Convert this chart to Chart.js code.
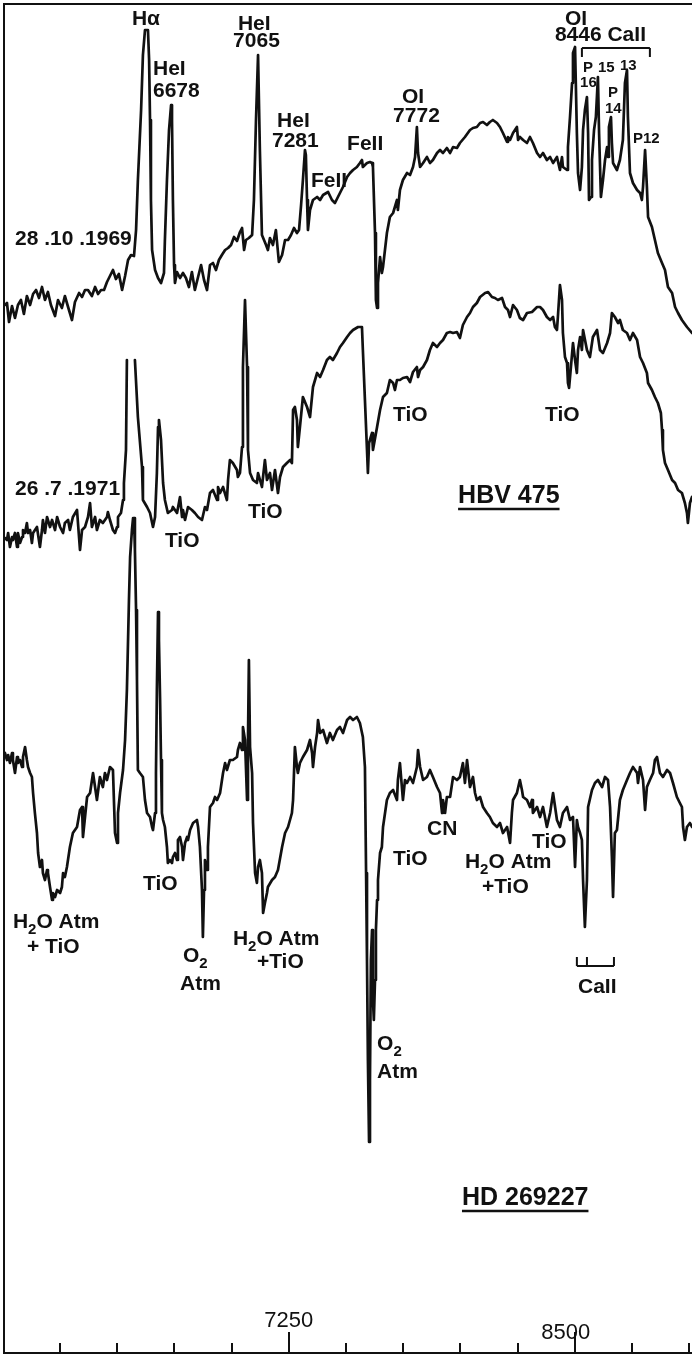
<!DOCTYPE html>
<html>
<head>
<meta charset="utf-8">
<script src="https://cdn.jsdelivr.net/npm/chart.js@4.4.0/dist/chart.umd.min.js"></script>
<style>
  html, body { margin: 0; padding: 0; background: #fff; }
  canvas { display: block; }
</style>
</head>
<body>
<canvas id="spec" width="692" height="1355"></canvas>
<script>
// wavelength (A) and relative intensity (offset per spectrum)
const wl1969 = [6010,6019,6028,6041,6054,6067,6080,6093,6106,6120,6133,6146,6159,6172,6185,6198,6211,6229,6242,6259,
  6272,6286,6303,6316,6334,6347,6360,6373,6390,6404,6417,6430,6443,6456,6469,6482,6495,6508,6522,6535,
  6548,6561,6574,6583,6591,6605,6613,6622,6635,6640,6644,6648,6653,6666,6679,6692,6705,6709,6718,6727,
  6736,6740,6744,6749,6753,6762,6775,6788,6801,6814,6827,6840,6854,6867,6880,6893,6906,6919,6932,6945,
  6958,6972,6985,6998,7011,7024,7037,7046,7055,7063,7076,7090,7098,7107,7116,7124,7133,7142,7151,7159,
  7168,7181,7194,7207,7221,7234,7247,7260,7273,7286,7295,7304,7312,7321,7325,7330,7334,7343,7356,7374,
  7387,7400,7422,7439,7452,7465,7487,7505,7518,7531,7548,7561,7570,7574,7592,7605,7614,7618,7627,7631,
  7636,7640,7649,7657,7662,7679,7692,7706,7723,7727,7736,7749,7767,7780,7793,7802,7810,7815,7824,7837,
  7854,7867,7880,7898,7911,7924,7941,7955,7968,7985,7998,8020,8042,8055,8072,8086,8099,8116,8129,8142,
  8160,8173,8186,8204,8208,8217,8230,8247,8252,8260,8274,8291,8304,8317,8335,8348,8361,8378,8392,8405,
  8422,8435,8444,8448,8466,8470,8479,8488,8492,8501,8509,8514,8523,8531,8536,8544,8553,8558,8562,8571,
  8575,8584,8592,8601,8606,8614,8623,8632,8641,8645,8649,8658,8662,8667,8684,8697,8710,8719,8728,8732,
  8741,8754,8772,8785,8793,8798,8807,8815,8820,8837,8850,8863,8881,8894,8907,8925,8938,8951,8968,8990,
  9012];
const flux1969 = [104.8,105.0,103.1,104.7,103.5,104.8,105.3,103.9,105.7,104.8,105.9,106.3,105.5,106.6,105.3,106.1,104.8,103.7,105.3,104.5,
  105.7,104.6,103.3,105.1,106.0,105.6,106.3,106.3,105.7,106.6,105.9,106.3,106.3,107.1,107.7,108.3,107.4,107.9,106.3,107.7,
  109.3,109.8,109.7,112.3,117.3,124.3,129.8,132.3,132.3,129.3,123.3,115.3,110.3,108.3,107.5,107.0,108.0,111.3,117.3,122.3,
  124.8,123.3,115.3,108.8,107.0,108.1,107.5,108.0,107.5,106.6,108.1,106.3,107.6,108.8,107.3,106.3,108.8,109.0,108.3,109.3,
  109.8,110.3,110.5,110.8,111.6,111.2,112.1,112.5,110.3,111.3,111.5,111.8,115.3,123.3,129.8,120.3,111.8,111.3,110.8,110.3,
  111.5,110.8,112.3,109.1,109.8,111.3,111.3,111.8,112.5,112.0,112.3,114.8,117.3,120.3,119.8,115.3,112.3,114.3,115.3,115.6,
  115.3,115.8,116.1,115.3,115.0,115.6,116.6,117.6,118.0,118.3,118.6,119.0,119.3,118.6,119.0,119.1,119.0,118.6,112.0,105.3,
  104.5,107.0,109.6,108.0,108.6,112.0,113.6,114.0,115.3,114.3,116.3,117.3,118.0,117.8,118.6,119.6,122.6,120.0,118.6,119.0,
  119.6,119.0,119.3,120.0,120.3,120.0,120.5,120.0,120.6,120.5,121.0,121.6,122.3,122.5,122.6,123.0,123.1,122.8,123.1,123.3,
  123.0,122.6,122.0,121.1,121.6,121.3,122.0,122.6,121.3,121.6,121.3,121.0,121.6,121.0,120.0,119.6,120.0,119.3,119.6,119.0,
  119.6,118.3,119.6,118.6,118.3,120.6,123.6,127.0,130.0,130.6,122.0,118.0,116.3,118.6,122.3,124.3,125.6,122.0,115.3,115.6,
  119.3,122.3,123.6,127.6,122.0,115.6,117.3,119.3,120.6,119.6,122.6,123.6,121.0,119.0,118.3,119.3,121.3,127.0,128.3,123.6,
  118.0,117.0,116.3,116.0,115.3,116.6,120.3,116.6,113.6,112.6,111.3,110.0,109.0,108.3,106.6,106.0,104.6,104.0,103.3,102.6,
  102.0];

const wl1971 = [6010,6019,6024,6032,6041,6045,6054,6063,6067,6076,6085,6089,6098,6106,6111,6120,6128,6133,6150,6163,
  6172,6176,6185,6194,6207,6216,6229,6238,6251,6264,6272,6286,6294,6307,6325,6338,6347,6360,6373,6382,
  6390,6404,6412,6425,6438,6456,6460,6469,6482,6491,6500,6504,6517,6526,6530,6539,6543,6560,6578,6591,
  6609,6613,6631,6644,6657,6666,6674,6679,6683,6692,6701,6709,6722,6740,6744,6762,6775,6784,6788,6797,
  6810,6827,6840,6854,6871,6884,6893,6906,6919,6937,6941,6950,6963,6980,6985,6993,7006,7024,7028,7037,
  7046,7050,7059,7068,7072,7081,7094,7111,7116,7133,7146,7155,7168,7177,7190,7203,7212,7225,7242,7256,
  7264,7269,7277,7286,7290,7299,7312,7330,7343,7356,7374,7387,7400,7417,7430,7443,7461,7474,7487,7505,
  7518,7531,7553,7570,7574,7583,7592,7596,7601,7614,7618,7636,7649,7662,7679,7692,7706,7714,7723,7736,
  7749,7767,7780,7793,7810,7815,7824,7837,7854,7867,7880,7898,7911,7924,7941,7955,7968,7985,7998,8011,
  8029,8042,8055,8072,8086,8108,8121,8138,8151,8164,8182,8195,8208,8217,8230,8247,8260,8274,8291,8313,
  8335,8348,8361,8378,8392,8405,8413,8422,8426,8435,8444,8448,8457,8466,8470,8475,8483,8492,8501,8509,
  8514,8523,8531,8536,8553,8566,8579,8597,8610,8623,8641,8654,8662,8675,8689,8697,8710,8728,8741,8754,
  8772,8785,8798,8815,8820,8837,8850,8863,8876,8881,8885,8894,8907,8925,8938,8951,8968,8981,8990,8994,
  9003,9012];
// null = the pen break across the top of H-alpha
const flux1971 = [81.5,81.3,82.0,80.6,81.6,81.3,82.0,80.6,82.0,81.0,81.6,82.3,82.0,83.0,82.0,82.3,81.0,82.0,82.6,80.6,
  82.3,83.3,82.0,83.6,82.6,83.3,82.3,83.6,82.6,82.0,83.0,83.3,82.3,83.6,84.3,80.3,82.3,82.6,83.6,85.0,
  82.6,83.6,82.3,83.3,83.0,83.6,84.1,83.3,82.3,82.0,82.6,83.6,84.0,85.3,87.0,90.3,99.3,null,99.3,93.6,
  88.6,85.3,84.6,84.0,82.6,83.6,88.0,92.6,93.3,91.3,87.0,85.3,84.0,84.3,84.6,84.0,85.6,83.6,84.3,83.3,
  84.6,84.3,84.0,83.6,83.3,84.6,84.3,86.0,86.3,85.3,86.6,86.0,86.6,85.3,87.3,89.3,89.0,88.3,87.6,88.0,
  90.6,98.6,105.3,98.6,90.3,88.0,87.3,87.0,88.0,86.6,89.3,87.3,88.0,86.3,88.3,86.0,87.6,88.6,89.0,89.3,
  89.0,94.3,94.6,93.3,90.6,92.6,95.6,94.6,93.6,96.6,98.0,97.6,98.3,99.3,99.6,99.3,100.0,100.6,101.0,101.6,
  102.0,102.3,102.6,102.6,100.3,95.3,90.3,88.0,91.0,92.0,90.3,92.6,94.3,95.6,96.0,97.3,97.0,96.3,97.3,97.3,
  97.5,97.6,97.1,98.1,98.6,97.6,98.3,98.6,99.3,100.3,101.0,100.6,101.0,101.3,102.0,102.1,102.0,102.1,101.5,102.8,
  103.6,104.0,104.6,105.0,105.6,106.0,106.1,105.6,105.5,105.3,105.5,104.6,104.3,103.6,104.8,104.3,103.5,103.3,104.0,104.1,
  104.6,104.6,104.3,103.6,103.3,103.6,102.6,102.3,103.6,106.8,105.3,102.0,99.6,99.0,97.0,96.5,98.6,101.0,99.3,98.0,
  100.3,101.6,100.3,102.3,100.3,99.6,101.6,102.3,100.3,100.0,101.0,102.0,104.0,103.6,103.0,103.3,102.3,102.0,101.3,102.0,
  101.3,99.6,99.0,98.0,97.0,96.3,95.6,95.0,94.0,92.3,90.3,89.0,88.3,87.3,87.0,86.3,86.0,85.0,84.0,83.0,
  85.0,85.6];

const wlHD = [6010,6019,6024,6032,6041,6045,6054,6063,6067,6076,6085,6089,6098,6106,6111,6120,6128,6133,6141,6150,
  6155,6163,6172,6176,6185,6194,6198,6207,6216,6220,6229,6238,6251,6259,6264,6272,6281,6294,6307,6325,
  6338,6347,6351,6360,6369,6382,6395,6412,6425,6438,6447,6456,6469,6482,6491,6500,6504,6513,6526,6535,
  6543,6552,6557,6565,6570,6574,6578,6583,6587,6591,6600,6613,6622,6631,6644,6653,6657,6666,6670,6674,
  6679,6683,6688,6692,6696,6701,6709,6718,6722,6731,6740,6744,6753,6762,6766,6775,6784,6788,6797,6806,
  6810,6819,6832,6849,6854,6862,6871,6875,6880,6884,6893,6897,6906,6919,6928,6937,6950,6963,6972,6980,
  6993,7006,7024,7028,7037,7046,7050,7059,7068,7072,7076,7081,7090,7094,7103,7111,7116,7124,7133,7138,
  7146,7155,7159,7177,7190,7203,7221,7234,7247,7264,7269,7277,7286,7290,7299,7312,7330,7343,7352,7356,
  7365,7374,7378,7387,7400,7417,7430,7443,7461,7474,7487,7505,7518,7531,7548,7561,7574,7583,7588,7592,
  7596,7601,7605,7609,7614,7618,7622,7627,7631,7636,7640,7649,7657,7662,7679,7692,7706,7723,7727,7736,
  7749,7758,7767,7780,7793,7810,7815,7824,7837,7854,7867,7880,7898,7911,7920,7924,7933,7941,7955,7968,
  7985,7998,8011,8020,8029,8042,8055,8064,8072,8086,8099,8116,8129,8142,8160,8173,8186,8204,8217,8225,
  8230,8247,8260,8269,8274,8291,8304,8313,8317,8335,8348,8361,8378,8392,8405,8422,8435,8448,8466,8479,
  8492,8501,8509,8514,8523,8531,8536,8544,8553,8558,8575,8588,8601,8619,8632,8645,8654,8662,8667,8675,
  8684,8697,8710,8728,8741,8754,8772,8776,8785,8798,8807,8815,8828,8842,8850,8859,8872,8885,8903,8916,
  8929,8946,8959,8968,8973,8981,8990,9003,9012];
const fluxHD = [60.0,59.3,59.8,59.0,60.0,59.3,58.0,59.6,59.0,59.3,58.6,59.6,60.6,59.3,58.6,58.0,57.6,56.0,54.0,52.0,
  50.0,48.6,49.3,48.0,47.3,48.3,48.0,46.6,45.3,46.0,45.6,46.3,46.0,46.6,48.0,47.6,48.6,50.6,52.0,52.6,
  54.3,54.6,51.6,53.6,55.6,56.0,58.0,55.3,57.6,56.6,58.0,57.3,58.6,58.3,52.0,51.0,54.0,56.0,58.3,61.3,
  66.3,75.3,79.6,82.3,83.5,83.5,80.3,74.3,67.3,58.3,58.0,57.6,55.3,54.0,53.6,52.6,52.3,54.0,58.0,66.3,
  74.1,71.3,65.3,59.3,54.0,53.3,52.6,50.6,49.0,49.3,49.0,49.6,50.0,49.3,51.3,51.6,50.6,49.3,51.0,51.6,
  51.3,52.3,53.0,53.3,52.6,50.6,46.3,41.6,46.3,49.3,48.3,50.6,54.6,55.0,55.6,55.3,56.0,58.0,59.0,58.3,
  59.3,59.3,59.6,60.3,61.0,60.3,62.6,61.3,55.3,61.3,69.3,60.6,58.0,53.0,48.0,47.0,48.6,49.3,48.0,44.0,
  45.0,46.0,46.6,47.3,47.6,48.3,50.6,52.0,52.6,54.0,55.3,60.6,58.6,58.0,59.0,59.6,60.3,61.3,60.0,58.6,
  60.6,62.0,63.3,62.0,62.3,61.0,62.0,61.3,62.3,62.6,62.0,63.3,63.6,63.3,63.6,63.0,61.6,58.6,48.0,39.3,
  29.3,21.1,27.3,39.3,42.3,35.3,33.3,37.3,42.3,45.3,47.3,50.0,50.6,52.6,55.3,56.0,56.3,55.3,57.3,59.0,
  55.3,57.3,57.0,57.6,57.0,58.6,60.3,58.6,57.3,57.6,58.3,57.6,56.6,56.0,54.0,55.3,54.0,55.6,55.6,57.6,
  57.3,57.6,59.0,57.0,59.3,56.6,57.6,56.0,55.3,55.6,54.6,54.0,53.6,53.0,52.6,53.0,52.0,52.6,51.0,54.0,
  55.3,56.0,57.3,56.3,55.6,55.3,54.6,55.3,54.0,54.6,53.6,54.6,52.6,54.0,56.0,53.3,52.6,54.0,54.6,53.3,
  53.6,48.6,53.3,52.6,52.0,51.3,47.3,42.6,47.3,54.6,56.3,57.0,57.3,56.6,57.6,57.3,54.6,49.6,45.6,52.0,
  52.3,55.3,56.3,57.3,58.0,58.6,58.0,57.0,58.6,57.3,54.3,56.6,57.3,58.0,59.3,59.6,58.0,57.6,58.3,58.0,
  57.0,55.6,55.0,54.6,52.6,51.3,52.6,53.0,52.6];

// axis ticks every 250 A, two of them labelled
const tickValues = [6250,6500,6750,7000,7250,7500,7750,8000,8250,8500,8750,9000];
const tickLabels = [7250, 8500];

// line identifications: [text, wavelength, level]   ("_2" = subscript 2)
const lineLabels = [
  ['H\u03b1', 6565, 132.8],
  ['HeI', 6657, 127.8], ['6678', 6657, 125.6],
  ['HeI', 7028, 132.3], ['7065', 7007, 130.6],
  ['HeI', 7199, 122.6], ['7281', 7177, 120.6],
  ['FeII', 7347, 116.6], ['FeII', 7505, 120.3],
  ['OI', 7745, 125.0], ['7772', 7706, 123.1],
  ['OI', 8457, 132.8], ['8446 CaII', 8413, 131.2],
  ['TiO', 6709, 80.6], ['TiO', 7072, 83.5], ['TiO', 7706, 93.2], ['TiO', 8370, 93.2],
  ['H_2O Atm', 6045, 42.5], ['+ TiO', 6106, 40.0],
  ['TiO', 6613, 46.3],
  ['O_2', 6788, 39.1], ['Atm', 6775, 36.3],
  ['H_2O Atm', 7006, 40.8], ['+TiO', 7111, 38.5],
  ['TiO', 7706, 48.8], ['CN', 7854, 51.8],
  ['H_2O Atm', 8020, 48.5], ['+TiO', 8094, 46.0],
  ['TiO', 8313, 50.5],
  ['CaII', 8514, 36.0],
  ['O_2', 7636, 30.3], ['Atm', 7636, 27.5]
];
const paschenLabels = [
  ['P', 8536, 128.1], ['16', 8523, 126.6], ['15', 8601, 128.1], ['13', 8697, 128.3],
  ['P', 8645, 125.6], ['14', 8632, 124.0], ['P12', 8754, 121.0]
];
const dateLabels = [['28 .10 .1969', 6054, 110.8], ['26 .7 .1971', 6054, 85.8]];
const starLabels = [['HBV 475', 7990, 85.0], ['HD 269227', 8007, 14.8]];
// CaII brackets: wavelengths of the bracket feet, bar level, foot level
const caBracketTop = [[8531, 8828], 130.5, 129.6];
const caBracketLow = [[8509, 8553, 8671], 38.7, 39.6];

const ink = '#111';
const family = '"Liberation Sans", Arial, Helvetica, sans-serif';

function points(wl, fl) {
  return wl.map((x, i) => ({ x: x, y: fl[i] }));
}

function drawText(ctx, text, x, y, size) {
  const face = s => 'bold ' + s + 'px ' + family;
  const parts = text.split('_');
  let cx = x;
  parts.forEach((p, i) => {
    let rest = p;
    if (i > 0) {
      ctx.font = face(Math.round(size * 0.72));
      ctx.fillText(p[0], cx, y + size * 0.28);
      cx += ctx.measureText(p[0]).width;
      rest = p.slice(1);
    }
    ctx.font = face(size);
    ctx.fillText(rest, cx, y);
    cx += ctx.measureText(rest).width;
  });
  return cx - x;
}

const plateDecor = {
  id: 'plateDecor',
  afterDraw(chart) {
    const ctx = chart.ctx, a = chart.chartArea;
    const xs = chart.scales.x, ys = chart.scales.y;
    ctx.save();
    ctx.strokeStyle = ink;
    ctx.fillStyle = ink;
    ctx.lineWidth = 2;
    ctx.lineCap = 'butt';

    // frame: top, left, bottom
    ctx.beginPath();
    ctx.moveTo(a.right, a.top);
    ctx.lineTo(a.left, a.top);
    ctx.lineTo(a.left, a.bottom);
    ctx.lineTo(a.right, a.bottom);
    ctx.stroke();

    // ticks point up from the bottom line
    tickValues.forEach(v => {
      const px = Math.round(xs.getPixelForValue(v));
      const len = tickLabels.includes(v) ? 21 : 10;
      ctx.beginPath();
      ctx.moveTo(px, a.bottom);
      ctx.lineTo(px, a.bottom - len);
      ctx.stroke();
    });
    ctx.font = '22px ' + family;
    ctx.textAlign = 'center';
    ctx.fillText('7250', xs.getPixelForValue(7250), a.bottom - 26);
    ctx.fillText('8500', xs.getPixelForValue(8500) - 9, a.bottom - 14);

    ctx.textAlign = 'left';
    ctx.textBaseline = 'alphabetic';
    lineLabels.forEach(l => drawText(ctx, l[0], xs.getPixelForValue(l[1]), ys.getPixelForValue(l[2]), 21));
    paschenLabels.forEach(l => drawText(ctx, l[0], xs.getPixelForValue(l[1]), ys.getPixelForValue(l[2]), 15));
    dateLabels.forEach(l => drawText(ctx, l[0], xs.getPixelForValue(l[1]), ys.getPixelForValue(l[2]), 21));
    starLabels.forEach(l => {
      const x = xs.getPixelForValue(l[1]), y = ys.getPixelForValue(l[2]);
      const w = drawText(ctx, l[0], x, y, 25);
      ctx.lineWidth = 2.5;
      ctx.beginPath();
      ctx.moveTo(x, y + 6);
      ctx.lineTo(x + w, y + 6);
      ctx.stroke();
    });

    // CaII brackets
    ctx.lineWidth = 2;
    [caBracketTop, caBracketLow].forEach(b => {
      const feet = b[0].map(v => xs.getPixelForValue(v));
      const yb = ys.getPixelForValue(b[1]), yf = ys.getPixelForValue(b[2]);
      ctx.beginPath();
      ctx.moveTo(feet[0], yb);
      ctx.lineTo(feet[feet.length - 1], yb);
      feet.forEach(f => { ctx.moveTo(f, yb); ctx.lineTo(f, yf); });
      ctx.stroke();
    });
    ctx.restore();
  }
};

const spectrum = (label, wl, fl) => ({
  label: label,
  data: points(wl, fl),
  borderColor: ink,
  backgroundColor: ink,
  borderWidth: 2.7,
  pointRadius: 0,
  fill: false,
  tension: 0,
  spanGaps: false
});

new Chart(document.getElementById('spec'), {
  type: 'line',
  data: {
    datasets: [
      spectrum('28.10.1969', wl1969, flux1969),
      spectrum('26.7.1971', wl1971, flux1971),
      spectrum('HD 269227', wlHD, fluxHD)
    ]
  },
  options: {
    responsive: false,
    animation: false,
    devicePixelRatio: 1,
    layout: { padding: { left: 4, right: 0, top: 4, bottom: 2 } },
    elements: { line: { borderJoinStyle: 'round', borderCapStyle: 'round' } },
    scales: {
      x: { type: 'linear', min: 6006, max: 9012, display: false },
      y: { type: 'linear', min: 0, max: 134.9, display: false }
    },
    plugins: {
      legend: { display: false },
      tooltip: { enabled: false }
    }
  },
  plugins: [plateDecor]
});
</script>
</body>
</html>
